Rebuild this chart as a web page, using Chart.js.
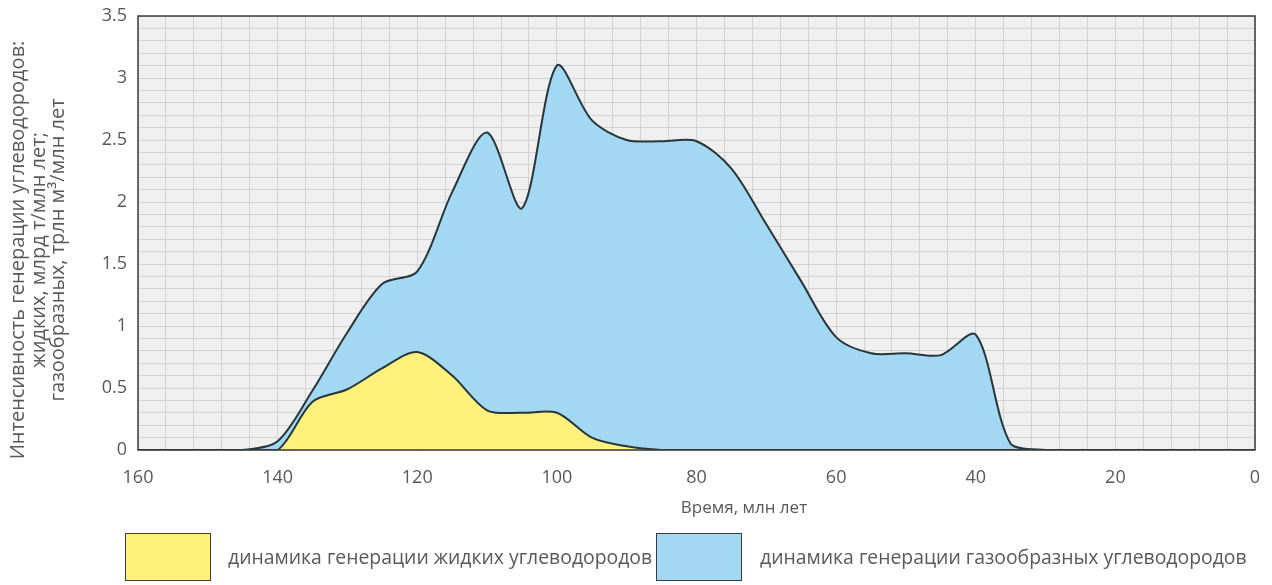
<!DOCTYPE html>
<html lang="ru">
<head>
<meta charset="utf-8">
<title>Динамика генерации углеводородов</title>
<script src="https://cdn.jsdelivr.net/npm/chart.js@4/dist/chart.umd.min.js"></script>
<style>
  body { margin: 0; background: #fff; }
  #wrap { position: relative; width: 1272px; height: 585px; font-family: "Open Sans", sans-serif; color: #595959; }
  #chart { position: absolute; left: 0; top: 0; }
  .lg-box { position: absolute; top: 533px; width: 84px; height: 46px; border: 1.5px solid #3c3c3c; }
  .lg-text { position: absolute; top: 544px; font-size: 19.4px; line-height: 26px; white-space: nowrap; }
</style>
</head>
<body>
<div id="wrap">
  <canvas id="chart" width="1272" height="585"></canvas>
  <div class="lg-box" style="left:125px;background:#fff17c"></div>
  <div class="lg-text" style="left:228px">динамика генерации жидких углеводородов</div>
  <div class="lg-box" style="left:656px;background:#a3d8f3"></div>
  <div class="lg-text" style="left:760px">динамика генерации газообразных углеводородов</div>
</div>
<script>
// время, млн лет (шаг 5)
const ages = [160, 155, 150, 145, 140, 135, 130, 125, 120, 115, 110, 105, 100, 95, 90, 85, 80,
              75, 70, 65, 60, 55, 50, 45, 40, 35, 30, 25, 20, 15, 10, 5, 0];
// жидкие, млрд т/млн лет
const liquid = [0, 0, 0, 0, 0, 0.39, 0.49, 0.66, 0.79, 0.60, 0.32, 0.30, 0.30, 0.10, 0.03, 0, 0,
                0, 0, 0, 0, 0, 0, 0, 0, 0, 0, 0, 0, 0, 0, 0, 0];
// газообразные, трлн м3/млн лет
const gas = [0, 0, 0, 0, 0.07, 0.48, 0.95, 1.34, 1.44, 2.08, 2.56, 1.95, 3.10, 2.66, 2.50, 2.49, 2.49,
             2.27, 1.82, 1.36, 0.91, 0.78, 0.78, 0.765, 0.93, 0.05, 0, 0, 0, 0, 0, 0, 0];

const xTitle = "Время, млн лет";
const yTitle = ["Интенсивность генерации углеводородов:", "жидких, млрд т/млн лет;", "газообразных, трлн м³/млн лет"];

const textColor = "#595959";
const lineColor = "#28363c";

function toPoints(values) {
  return ages.map((a, i) => ({ x: a, y: values[i] }));
}

// фон области построения, рамка и подписи осей
const plotFrame = {
  id: "plotFrame",
  beforeDraw(chart) {
    const { ctx, chartArea: a } = chart;
    ctx.save();
    ctx.fillStyle = "#efefef";
    ctx.fillRect(a.left, a.top, a.right - a.left, a.bottom - a.top);
    ctx.restore();
  },
  afterDraw(chart) {
    const { ctx, chartArea: a } = chart;
    ctx.save();
    ctx.strokeStyle = "#3c3c3c";
    ctx.lineWidth = 1.5;
    ctx.strokeRect(a.left, a.top, a.right - a.left, a.bottom - a.top);

    ctx.fillStyle = textColor;
    ctx.textAlign = "center";
    ctx.textBaseline = "middle";
    ctx.font = "17px 'Open Sans'";
    ctx.fillText(xTitle, 744, 508);

    ctx.font = "20px 'Open Sans'";
    const xs = [18, 39, 58];
    yTitle.forEach((line, i) => {
      ctx.save();
      ctx.translate(xs[i], 250);
      ctx.rotate(-Math.PI / 2);
      ctx.fillText(line, 0, 0);
      ctx.restore();
    });
    ctx.restore();
  }
};

new Chart(document.getElementById("chart").getContext("2d"), {
  type: "line",
  data: {
    datasets: [
      {
        label: "динамика генерации жидких углеводородов",
        data: toPoints(liquid),
        backgroundColor: "#fff17c",
        borderColor: lineColor,
        borderWidth: 2,
        fill: "origin",
        tension: 0.3,
        pointRadius: 0
      },
      {
        label: "динамика генерации газообразных углеводородов",
        data: toPoints(gas),
        backgroundColor: "#a3d8f3",
        borderColor: lineColor,
        borderWidth: 2,
        fill: "origin",
        tension: 0.3,
        pointRadius: 0
      }
    ]
  },
  options: {
    responsive: false,
    animation: false,
    layout: { padding: { top: 16, right: 17, left: 0, bottom: 0 } },
    plugins: {
      legend: { display: false },
      tooltip: { enabled: false }
    },
    scales: {
      x: {
        type: "linear",
        reverse: true,
        min: 0,
        max: 160,
        afterFit: (scale) => {
          scale.height = 135;
          scale.paddingLeft = 0;
          scale.paddingRight = 0;
        },
        grid: { color: "#d2d2d2", lineWidth: 1, drawTicks: false },
        border: { display: false },
        ticks: {
          stepSize: 4,
          autoSkip: false,
          maxTicksLimit: 100,
          maxRotation: 0,
          padding: 17,
          color: textColor,
          font: { family: "Open Sans", size: 18 },
          callback: (v) => (v % 20 === 0 ? String(v) : "")
        }
      },
      y: {
        min: 0,
        max: 3.5,
        afterFit: (scale) => {
          scale.width = 138;
          scale.paddingTop = 0;
          scale.paddingBottom = 0;
        },
        grid: { color: "#d2d2d2", lineWidth: 1, drawTicks: false },
        border: { display: false },
        ticks: {
          stepSize: 0.1,
          autoSkip: false,
          maxTicksLimit: 100,
          padding: 11,
          color: textColor,
          font: { family: "Open Sans", size: 18 },
          callback: (v) => (Math.round(v * 10) % 5 === 0 ? String(Math.round(v * 10) / 10) : "")
        }
      }
    }
  },
  plugins: [plotFrame]
});
</script>
</body>
</html>
